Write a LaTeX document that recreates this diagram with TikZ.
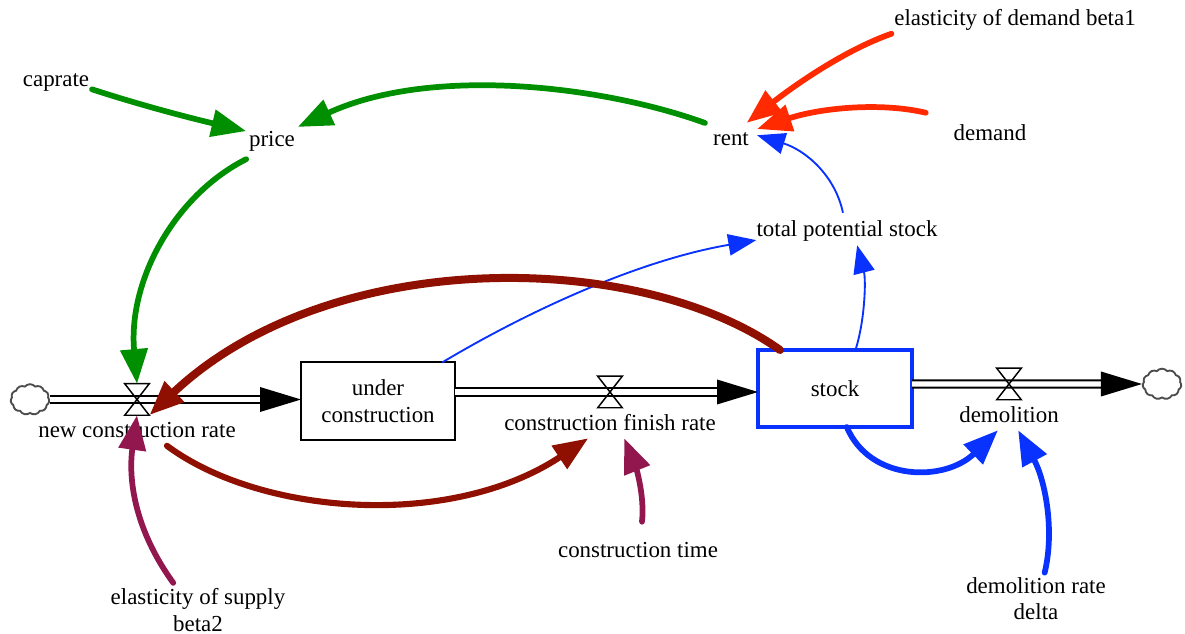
\documentclass[tikz,border=0pt]{standalone}
\usepackage{fontspec}
\setmainfont{Liberation Serif}
\usetikzlibrary{arrows.meta}
\usetikzlibrary{positioning}
\usetikzlibrary{shapes.symbols}
\definecolor{linkgreen}{HTML}{008F00}
\definecolor{linkmaroon}{HTML}{8F1000}
\definecolor{linkpurple}{HTML}{92174F}
\definecolor{linkred}{HTML}{FF2A00}
\definecolor{linkblue}{HTML}{0A32FF}
\tikzset {
  % plain text variable
  var/.style = {
    font = \fontsize{17.2}{20}\selectfont,
    align = center,
    inner xsep = 2pt,
    inner ysep = 0pt,
    text height = 13.5pt,
    text depth = 2.5pt,
    minimum height = 22.5pt
  },
  % stock box
  level/.style = {
    draw = black,
    line width = 1.5pt,
    font = \fontsize{17.2}{20.3}\selectfont,
    align = center,
    minimum width = 115.5pt,
    minimum height = 57.75pt,
    inner sep = 0,
    outer sep = 0
  },
  valve/.style = {
    minimum width = 18pt,
    minimum height = 23.25pt,
    inner sep = 0
  },
  source/.style = {
    draw = black!70,
    cloud,
    cloud puffs = 11,
    cloud puff arc = 100,
    line width = 1.4pt,
    minimum width = 29pt,
    minimum height = 23pt,
    inner sep = 0
  },
  flow/.style = {
    draw = black,
    double = white,
    double distance = 3.9pt,
    line width = 1.5pt,
    shorten > = 30pt
  },
  flowhead/.style = {
    fill = black
  },
  link/.style = {
    -{Triangle[length = 26pt, width = 20pt]},
    line cap = round
  },
  glink/.style = {link, draw = linkgreen, line width = 4.3pt},
  mlink/.style = {link, draw = linkmaroon, line width = 4.6pt},
  plink/.style = {link, draw = linkpurple, line width = 4.3pt},
  rlink/.style = {link, draw = linkred, line width = 4.3pt},
  blink/.style = {link, draw = linkblue, line width = 4.3pt},
  % thin link
  tlink/.style = {
    -{Triangle[length = 21pt, width = 16pt]},
    draw = linkblue,
    line width = 1.4pt
  },
  node distance = 0
}
\begin{document}
\begin{tikzpicture}[x = 0.75pt, y = -0.75pt]
  \useasboundingbox (0,0) rectangle (1185,634);

  \node[valve] (valve1) at (137,399.5) {};
  \node[valve] (valve2) at (610,392) {};
  \node[valve] (valve3) at (1009,384) {};
  \node[source] (cloud1) at (30,399.5) {};
  \node[source] (cloud2) at (1162,384) {};
  \node[level] (under) at (378,401) {under\\construction};
  \node[level, draw = linkblue, line width = 3pt] (stock) at (835,388.5) {stock};

  \node[var] (newrate) [below=of valve1] {new construction rate};
  \node[var] (finish) [below=of valve2] {construction finish rate};
  \node[var] (demolition) [below=of valve3] {demolition};
  \node[var] (caprate) at (56,79) {caprate};
  \node[var, minimum height = 32pt] (price) at (272,139) {price};
  \node[var, inner xsep = 6pt] (rent) at (731,138) {rent};
  \node[var] (beta1) at (1015,18.5) {elasticity of demand beta1};
  \node[var, minimum width = 96pt, minimum height = 30pt] (demand) at (990,133) {demand};
  \node[var, inner xsep = 0pt, minimum height = 24pt] (total) at (847,229) {total potential stock};
  \node[var, minimum height = 42pt] (time) at (638,550) {construction time};
  \node[var, text height = 36pt, text depth = 2pt] (beta2) at (198,608.5) {elasticity of supply\\beta2};
  \node[var, text height = 35.25pt, text depth = 2pt] (delta) at (1036,597.8) {demolition rate\\delta};

  \draw[flow] (cloud1.east) -- (cloud1.east -| under.west);
  \draw[flow] (under.east |- valve2) -- (stock.west |- valve2);
  \draw[flow] (stock.east |- valve3) -- (cloud2.west);
  \fill[flowhead] (under.west |- valve1) -- ++(-41,-12.5) -- ++(0,25) -- cycle;
  \fill[flowhead] (stock.west |- valve2) -- ++(-41,-12.5) -- ++(0,25) -- cycle;
  \fill[flowhead] (cloud2.west) -- ++(-41,-12.5) -- ++(0,25) -- cycle;

  \foreach \v in {valve1, valve2, valve3}
    \draw[line width = 1.1pt] (\v.north west) -- (\v.north east)
      -- (\v.south west) -- (\v.south east) -- cycle;

  \draw[glink] (caprate.-16) .. controls (140,105) and (190,118) .. (price.163);
  \draw[glink] (rent.150) .. controls (600,85) and (430,66) .. (price.25);
  \draw[glink] (price.218) .. controls (175,195) and (128,280) .. (valve1.north);

  \draw[rlink] (beta1.south west) .. controls (845,50) and (795,85) .. (rent.44);
  \draw[rlink] (demand.north west) .. controls (880,102) and (820,108) .. (rent.19);

  \draw[tlink] (total.104) .. controls (835,175) and (805,150) .. (rent.6);
  \draw[tlink] (stock.62.5) .. controls (865,320) and (866,280) .. (total.-58);
  \draw[tlink] (under.31) .. controls (530,310) and (640,260) .. (total.187);

  \draw[mlink, line width = 6pt] (stock.145) .. controls (640,250) and (330,245) .. (valve1.south east);
  \draw[mlink] (newrate.-27) .. controls (260,515) and (450,530) .. (finish.215.5);

  \draw[plink] (time.82) .. controls (645,495) and (635,465) .. (finish.-47);
  \draw[plink] (beta2.134) .. controls (135,530) and (128,480) .. (valve1.south);

  \draw[blink] (stock.287) .. controls (870,482) and (945,482) .. (demolition.234);
  \draw[blink] (delta.71) .. controls (1055,530) and (1045,480) .. (demolition.301);
\end{tikzpicture}
\end{document}
